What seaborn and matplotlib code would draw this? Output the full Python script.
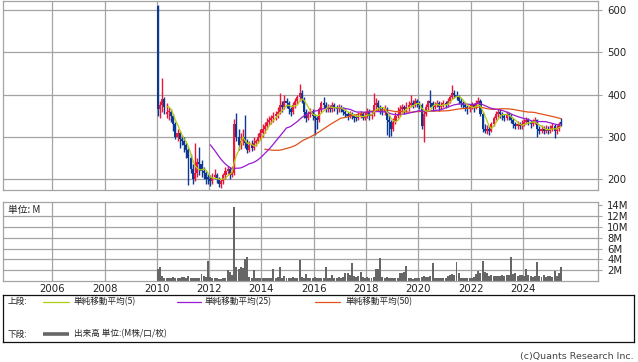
import numpy as np
import pandas as pd
import matplotlib
matplotlib.use("Agg")
import matplotlib.pyplot as plt
import seaborn as sns

# ---------------- data (monthly, 2010-01 .. 2025-06) ----------------
start_year = 2010
opens = [610, 365, 375, 390, 355, 360, 360, 350, 330, 300, 310, 295,
         290, 280, 270, 250, 225, 200, 215, 240, 235, 220, 215, 205,
         200, 195, 205, 210, 200, 190, 195, 210, 220, 225, 210, 215,
         330, 300, 280, 290, 300, 285, 270, 280, 275, 285, 290, 300,
         310, 320, 325, 335, 340, 345, 350, 355, 360, 375, 370, 385,
         380, 365, 360, 375, 385, 395, 405, 390, 360, 345, 355, 360,
         350, 345, 340, 365, 380, 375, 365, 370, 365, 375, 370, 365,
         370, 365, 360, 355, 350, 355, 350, 348, 345, 350, 355, 345,
         350, 360, 350, 355, 375, 380, 370, 365, 360, 365, 340, 335,
         320, 335, 350, 355, 365, 370, 365, 370, 375, 380, 375, 385,
         380, 375, 325, 355, 370, 385, 380, 370, 375, 380, 370, 375,
         380, 375, 385, 395, 405, 400, 395, 385, 380, 375, 370, 365,
         370, 375, 370, 380, 385, 355, 320, 315, 320, 315, 330, 345,
         355, 360, 355, 350, 345, 355, 350, 340, 330, 325, 330, 325,
         330, 335, 340, 335, 330, 335, 340, 320, 315, 320, 315, 320,
         315, 320, 325, 315, 320, 335]
highs = [612, 385, 440, 395, 380, 372, 365, 355, 335, 320, 315, 305,
         300, 285, 275, 260, 235, 285, 250, 276, 245, 230, 220, 212,
         210, 215, 225, 215, 205, 200, 215, 228, 232, 230, 232, 342,
         357, 320, 310, 320, 352, 295, 290, 292, 300, 295, 310, 318,
         330, 335, 345, 350, 352, 360, 362, 370, 404, 385, 398, 392,
         385, 372, 382, 392, 400, 426, 410, 395, 365, 362, 368, 365,
         355, 350, 370, 385, 395, 382, 378, 375, 382, 380, 375, 378,
         375, 370, 365, 360, 362, 360, 355, 352, 358, 362, 360, 358,
         368, 365, 362, 404, 392, 388, 375, 372, 375, 370, 352, 340,
         345, 358, 372, 375, 378, 375, 382, 385, 400, 388, 392, 390,
         385, 380, 362, 378, 388, 411, 385, 382, 388, 385, 382, 388,
         385, 392, 400, 423, 412, 408, 400, 392, 385, 382, 375, 378,
         382, 380, 388, 395, 390, 360, 330, 328, 325, 335, 350, 362,
         365, 365, 360, 355, 362, 360, 355, 345, 335, 338, 335, 340,
         342, 348, 345, 340, 342, 348, 342, 325, 328, 325, 328, 325,
         328, 332, 330, 328, 335, 345]
lows = [350, 345, 360, 355, 345, 340, 335, 315, 295, 290, 275, 280,
        265, 250, 186, 215, 190, 195, 205, 210, 205, 200, 190, 188,
        185, 190, 200, 192, 182, 180, 190, 200, 212, 200, 205, 210,
        290, 270, 272, 280, 275, 262, 265, 268, 270, 278, 285, 292,
        300, 310, 318, 328, 330, 335, 340, 345, 355, 360, 365, 368,
        355, 350, 355, 368, 378, 385, 380, 345, 335, 340, 348, 340,
        305, 320, 335, 360, 368, 358, 360, 358, 360, 362, 355, 360,
        358, 352, 348, 340, 345, 342, 335, 338, 340, 345, 340, 340,
        345, 340, 342, 350, 365, 362, 355, 352, 352, 305, 300, 302,
        315, 330, 345, 350, 355, 355, 360, 362, 370, 368, 370, 372,
        365, 318, 288, 350, 362, 372, 362, 365, 370, 362, 365, 370,
        368, 370, 380, 390, 392, 388, 378, 372, 368, 362, 355, 360,
        365, 360, 365, 375, 350, 312, 310, 308, 305, 312, 325, 340,
        348, 345, 340, 338, 340, 340, 332, 322, 318, 320, 318, 320,
        325, 330, 328, 322, 325, 330, 300, 308, 310, 308, 310, 308,
        310, 315, 298, 308, 315, 325]
closes = [365, 375, 390, 370, 360, 360, 350, 330, 300, 310, 295, 290,
          280, 270, 250, 225, 200, 215, 240, 235, 220, 215, 200, 200,
          195, 205, 210, 200, 190, 195, 210, 220, 225, 210, 215, 330,
          300, 280, 290, 300, 285, 270, 280, 275, 285, 290, 300, 310,
          320, 325, 335, 340, 345, 350, 355, 360, 375, 370, 385, 380,
          365, 360, 375, 385, 395, 405, 390, 360, 345, 355, 360, 350,
          345, 340, 365, 380, 375, 365, 370, 365, 375, 370, 365, 370,
          365, 360, 355, 350, 355, 350, 345, 345, 350, 355, 345, 350,
          360, 350, 355, 375, 380, 370, 365, 360, 365, 340, 335, 320,
          335, 350, 355, 365, 370, 365, 370, 375, 380, 375, 385, 380,
          375, 325, 355, 370, 385, 380, 370, 375, 380, 370, 375, 380,
          375, 385, 395, 405, 400, 395, 385, 380, 375, 370, 365, 370,
          375, 370, 380, 385, 355, 320, 315, 320, 315, 330, 345, 355,
          360, 355, 350, 345, 355, 350, 340, 330, 325, 330, 325, 330,
          335, 340, 335, 330, 335, 340, 320, 315, 320, 315, 320, 315,
          320, 325, 315, 320, 330, 330]
volume_m = [2.2, 2.5, 1.0, 0.6, 0.5, 0.5, 0.6, 0.7, 0.5, 0.6, 0.6, 0.8,
            0.7, 0.6, 1.0, 0.6, 0.5, 0.5, 0.6, 0.5, 1.3, 0.9, 0.8, 3.7,
            0.8, 0.6, 0.5, 0.5, 0.4, 0.4, 0.5, 0.6, 2.0, 1.6, 1.2, 13.7,
            2.6, 2.2, 2.5, 2.4, 4.1, 4.5, 0.7, 0.6, 2.1, 0.6, 0.6, 0.5,
            0.6, 0.5, 0.6, 0.6, 0.5, 2.3, 0.6, 0.7, 2.5, 0.6, 1.0, 0.6,
            0.6, 0.5, 0.7, 0.6, 0.6, 3.9, 0.7, 0.6, 1.3, 0.5, 0.6, 0.5,
            0.7, 0.6, 0.5, 0.6, 0.5, 2.5, 0.6, 0.5, 1.2, 0.5, 0.6, 0.7,
            0.6, 0.7, 1.4, 1.5, 1.2, 3.4, 0.9, 0.8, 1.0, 1.6, 0.7, 0.6,
            0.7, 0.6, 0.6, 0.8, 2.2, 2.3, 4.2, 0.7, 0.6, 0.7, 0.6, 0.5,
            0.6, 0.5, 0.6, 1.5, 1.4, 1.6, 2.8, 0.6, 0.5, 0.4, 0.5, 0.5,
            0.5, 0.8, 0.9, 0.7, 0.8, 1.0, 3.4, 0.5, 0.6, 0.5, 0.5, 0.6,
            0.5, 1.0, 1.1, 1.3, 1.2, 3.5, 1.4, 0.6, 0.5, 0.6, 0.5, 0.6,
            0.6, 0.7, 1.3, 1.9, 1.5, 3.7, 1.6, 1.5, 1.0, 1.1, 0.9, 1.0,
            1.0, 0.9, 1.1, 1.0, 1.1, 1.2, 4.4, 1.3, 1.4, 1.0, 1.2, 1.1,
            1.0, 2.3, 1.1, 0.9, 0.8, 1.0, 3.5, 0.9, 0.8, 1.1, 0.7, 0.9,
            1.0, 0.8, 1.9, 1.0, 1.5, 2.6]
ma_windows = [5, 25, 50]
ma_labels = ["単純移動平均(5)", "単純移動平均(25)", "単純移動平均(50)"]
price_ticks = [200, 300, 400, 500, 600]
vol_ticks = [2, 4, 6, 8, 10, 12, 14]
vol_tick_labels = ["2M", "4M", "6M", "8M", "10M", "12M", "14M"]
year_ticks = [2006, 2008, 2010, 2012, 2014, 2016, 2018, 2020, 2022, 2024]

# ---------------- styling ----------------
sns.set_theme(style="white")
plt.rcParams["font.family"] = ["DejaVu Sans", "Noto Sans CJK JP"]
JP = ["Noto Sans CJK JP", "DejaVu Sans"]

UP = "#e8173c"
DOWN = "#0c3894"
GRID = "#a3a3a3"
MA_COLORS = {ma_labels[0]: "#b4cc10", ma_labels[1]: "#9a1ad0", ma_labels[2]: "#e0521a"}
VOL_COLOR = "#666666"

W, H = 638, 362
fig = plt.figure(figsize=(W / 100, H / 100), dpi=100)


def px_axes(x0, y0, x1, y1):
    return fig.add_axes([x0 / W, 1 - y1 / H, (x1 - x0) / W, (y1 - y0) / H])


n = len(closes)
df = pd.DataFrame({"open": opens, "high": highs, "low": lows, "close": closes,
                   "volume": volume_m})
df["t"] = start_year + (np.arange(n) + 0.5) / 12.0
df["up"] = df["close"] >= df["open"]
bw = 0.95 / 12.0
vw = 0.9 / 12.0

XL = (2004.13, 2026.88)

# ---------------- price panel ----------------
ax = px_axes(3.3, 0.7, 598.3, 190)
ax.set_xlim(*XL)
ax.set_ylim(174.7, 622)
ax.set_axisbelow(True)
ax.grid(True, color=GRID, lw=0.9)
for s in ax.spines.values():
    s.set_color(GRID)
    s.set_linewidth(0.9)

colors = np.where(df["up"], UP, DOWN)
ax.vlines(df["t"], df["low"], df["high"], colors=colors, lw=1.0, zorder=2)
body_lo = np.minimum(df["open"], df["close"])
body_h = np.maximum(np.abs(df["close"] - df["open"]), 1.5)
ax.bar(df["t"], body_h, bottom=body_lo, width=bw, color=colors, lw=0, zorder=2)

ma_frames = []
for w, lab in zip(ma_windows, ma_labels):
    ma_frames.append(pd.DataFrame({"t": df["t"], "value": df["close"].rolling(w).mean(),
                                   "series": lab}))
ma_df = pd.concat(ma_frames).dropna()
sns.lineplot(data=ma_df, x="t", y="value", hue="series", hue_order=ma_labels[::-1],
             palette=MA_COLORS, estimator=None, legend=False, lw=0.9, ax=ax, zorder=3)
ax.set_xlabel("")
ax.set_ylabel("")
ax.set_xticks(year_ticks)
ax.set_xticklabels([])
ax.tick_params(axis="x", length=0)
ax.yaxis.tick_right()
ax.set_yticks(price_ticks)
ax.tick_params(axis="y", length=3, width=0.8, color=GRID, pad=3.5,
               labelsize=7.3, labelcolor="#222222")

# ---------------- volume panel ----------------
axv = px_axes(3.3, 201.7, 598.3, 281)
axv.set_xlim(*XL)
axv.set_ylim(0, 14.68)
axv.set_axisbelow(True)
axv.grid(True, axis="x", color=GRID, lw=0.9)
for v in vol_ticks[:-1]:
    axv.axhline(v, color=GRID, lw=0.9, zorder=0)
for s in axv.spines.values():
    s.set_color(GRID)
    s.set_linewidth(0.9)
axv.bar(df["t"], df["volume"], width=vw, color=VOL_COLOR, lw=0, zorder=2)
axv.set_xticks(year_ticks)
axv.set_xticklabels([str(y) for y in year_ticks])
axv.tick_params(axis="x", length=0, pad=2, labelsize=7.3, labelcolor="#222222")
axv.yaxis.tick_right()
axv.set_yticks(vol_ticks)
axv.set_yticklabels(vol_tick_labels)
axv.tick_params(axis="y", length=3, width=0.8, color=GRID, pad=3.5,
                labelsize=7.3, labelcolor="#222222")
fig.text(8 / W, 1 - 210 / H, "単位: M", family=JP, fontsize=7, va="center",
         ha="left", color="#222222")

# ---------------- legend box ----------------
axl = px_axes(3, 295, 634, 342)
axl.set_xlim(3, 634)
axl.set_ylim(342, 295)
axl.set_xticks([])
axl.set_yticks([])
for s in axl.spines.values():
    s.set_color("#111111")
    s.set_linewidth(0.9)
axl.patch.set_alpha(0)

row1, row2 = 301.5, 334
axl.text(8, row1, "上段:", family=JP, fontsize=6.2, va="center", ha="left", color="#222222")
line_x = [(43, 69), (177, 201), (315, 340)]
text_x = [74, 205, 346]
for (x0, x1), tx, lab in zip(line_x, text_x, ma_labels):
    axl.plot([x0, x1], [row1, row1], color=MA_COLORS[lab], lw=0.9)
    axl.text(tx, row1, lab, family=JP, fontsize=6.2, va="center", ha="left", color="#222222")
axl.text(8, row2, "下段:", family=JP, fontsize=6.2, va="center", ha="left", color="#222222")
axl.plot([43, 69], [row2, row2], color=VOL_COLOR, lw=2.6, solid_capstyle="butt")
axl.text(74, row2, "出来高 単位:(M株/口/枚)", family=JP, fontsize=6.2, va="center",
         ha="left", color="#222222")

fig.text(634 / W, 1 - 356 / H, "(c)Quants Research Inc.", fontsize=6.8, ha="right",
         va="center", color="#444444")

fig.savefig("out.png", dpi=100)
